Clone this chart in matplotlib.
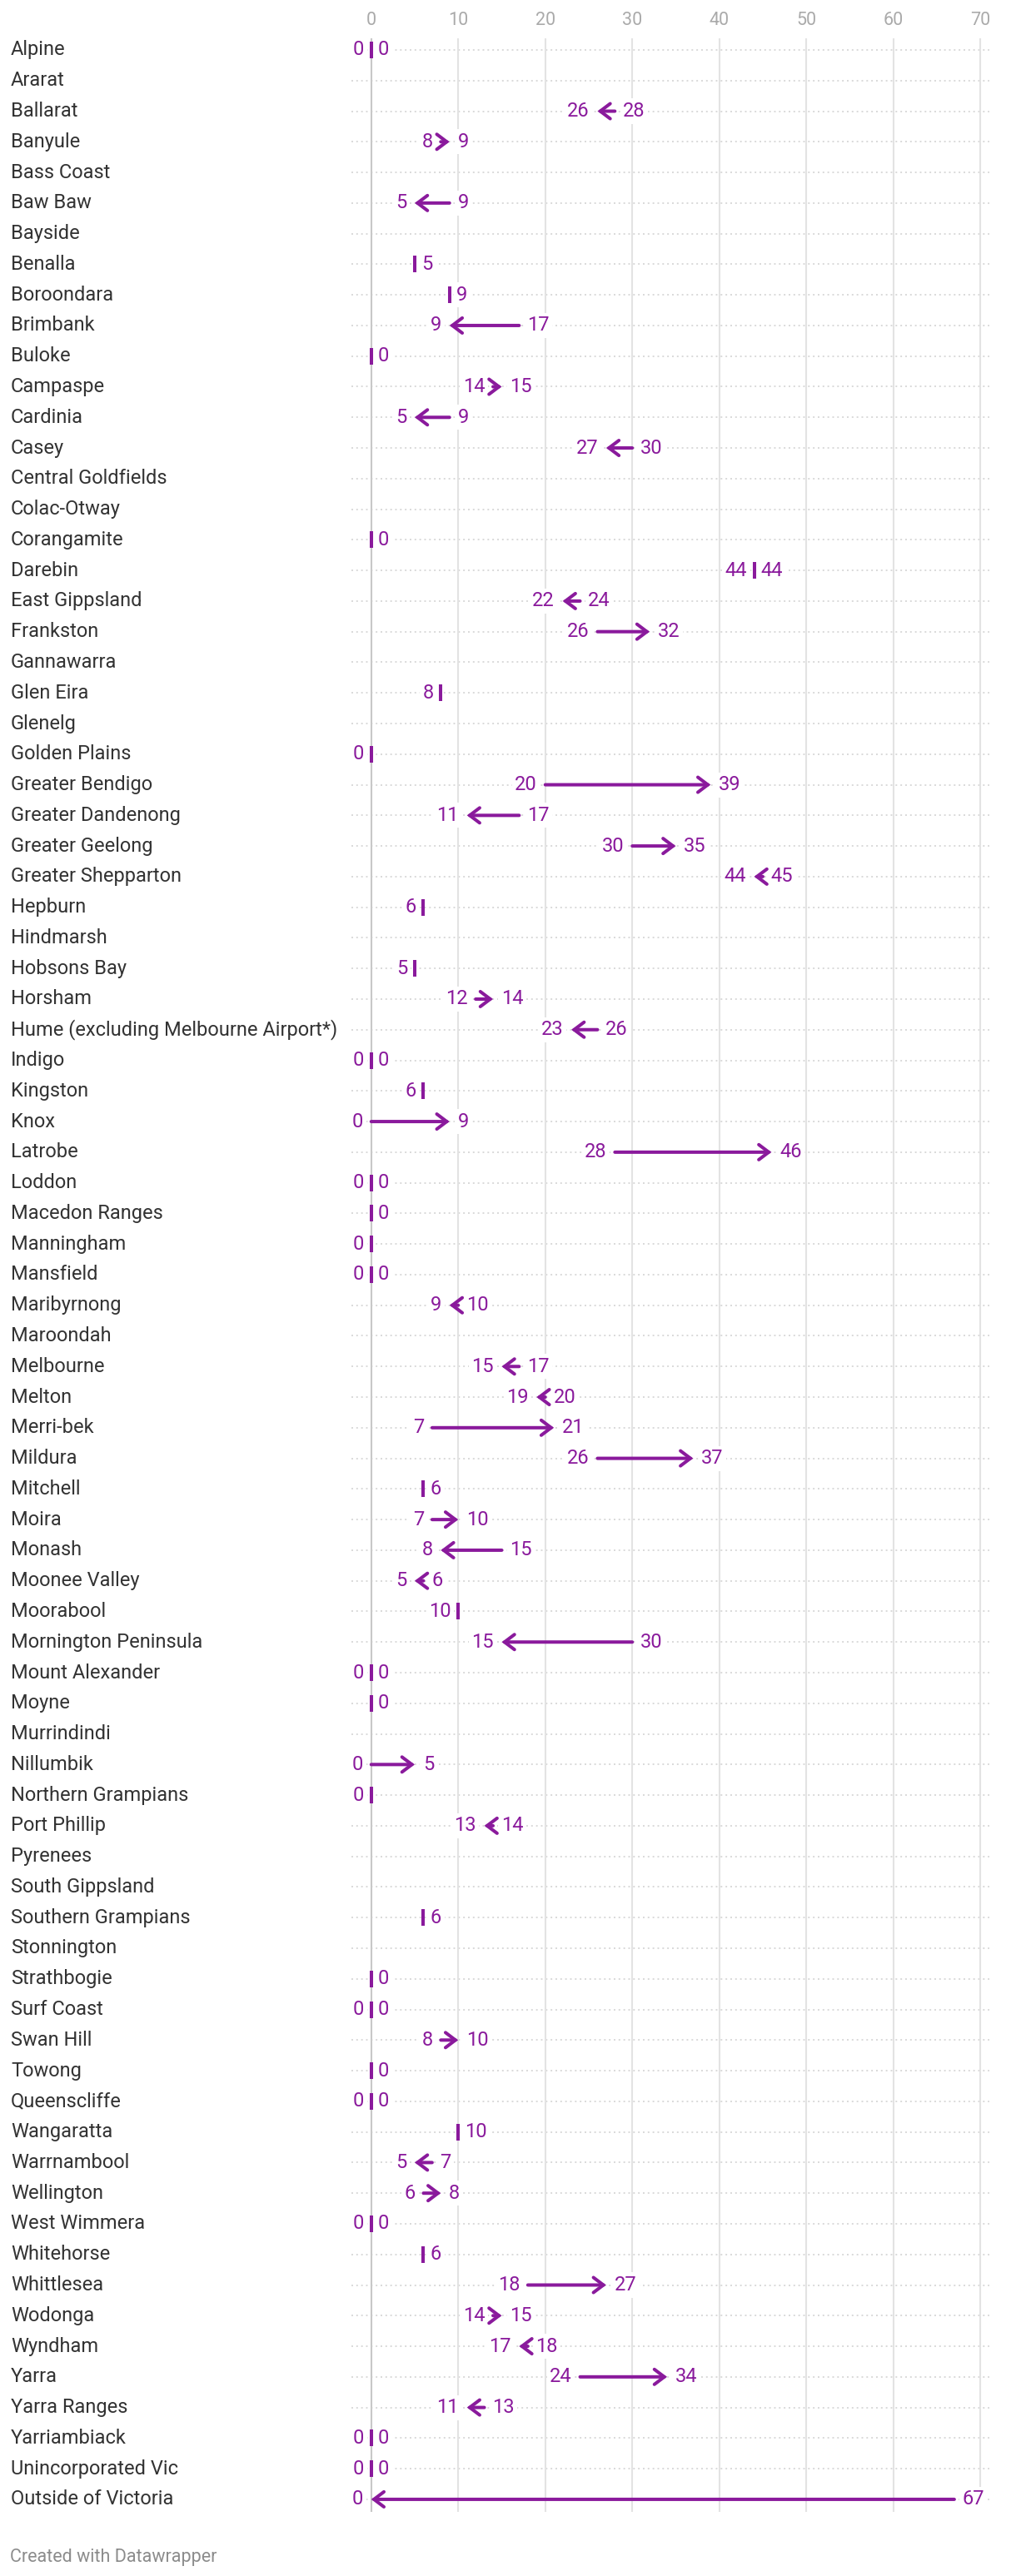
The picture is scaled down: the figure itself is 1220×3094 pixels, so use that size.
import numpy as np
import matplotlib.pyplot as plt
from matplotlib.patches import FancyArrowPatch
from matplotlib.transforms import blended_transform_factory

plt.rcParams["font.family"] = ["Roboto", "DejaVu Sans"]

nan = np.nan

councils = [
    "Alpine", "Ararat", "Ballarat", "Banyule", "Bass Coast", "Baw Baw", "Bayside",
    "Benalla", "Boroondara", "Brimbank", "Buloke", "Campaspe", "Cardinia", "Casey",
    "Central Goldfields", "Colac-Otway", "Corangamite", "Darebin", "East Gippsland",
    "Frankston", "Gannawarra", "Glen Eira", "Glenelg", "Golden Plains",
    "Greater Bendigo", "Greater Dandenong", "Greater Geelong", "Greater Shepparton",
    "Hepburn", "Hindmarsh", "Hobsons Bay", "Horsham",
    "Hume (excluding Melbourne Airport*)", "Indigo", "Kingston", "Knox", "Latrobe",
    "Loddon", "Macedon Ranges", "Manningham", "Mansfield", "Maribyrnong", "Maroondah",
    "Melbourne", "Melton", "Merri-bek", "Mildura", "Mitchell", "Moira", "Monash",
    "Moonee Valley", "Moorabool", "Mornington Peninsula", "Mount Alexander", "Moyne",
    "Murrindindi", "Nillumbik", "Northern Grampians", "Port Phillip", "Pyrenees",
    "South Gippsland", "Southern Grampians", "Stonnington", "Strathbogie", "Surf Coast",
    "Swan Hill", "Towong", "Queenscliffe", "Wangaratta", "Warrnambool", "Wellington",
    "West Wimmera", "Whitehorse", "Whittlesea", "Wodonga", "Wyndham", "Yarra",
    "Yarra Ranges", "Yarriambiack", "Unincorporated Vic", "Outside of Victoria",
]

# first value (arrow tail) and second value (arrow head)
start = [
    0, nan, 28, 8, nan, 9, nan,
    nan, nan, 17, nan, 14, 9, 30,
    nan, nan, nan, 44, 24,
    26, nan, 8, nan, 0,
    20, 17, 30, 45,
    6, nan, 5, 12,
    26, 0, 6, 0, 28,
    0, nan, 0, 0, 10, nan,
    17, 20, 7, 26, nan, 7, 15,
    6, 10, 30, 0, nan,
    nan, 0, 0, 14, nan,
    nan, nan, nan, nan, 0,
    8, nan, 0, nan, 7, 6,
    0, nan, 18, 14, 18, 24,
    13, 0, 0, 67,
]
end = [
    0, nan, 26, 9, nan, 5, nan,
    5, 9, 9, 0, 15, 5, 27,
    nan, nan, 0, 44, 22,
    32, nan, nan, nan, nan,
    39, 11, 35, 44,
    nan, nan, nan, 14,
    23, 0, nan, 9, 46,
    0, 0, nan, 0, 9, nan,
    15, 19, 21, 37, 6, 10, 8,
    5, nan, 15, 0, 0,
    nan, 5, nan, 13, nan,
    nan, 6, nan, 0, 0,
    10, 0, 0, 10, 5, 8,
    0, 6, 27, 15, 17, 34,
    11, 0, 0, 0,
]

ticks = [0, 10, 20, 30, 40, 50, 60, 70]

purple = "#8a1a9c"
W, H = 1220, 3094

fig = plt.figure(figsize=(W / 100, H / 100), dpi=100)
ax = fig.add_axes([422 / W, 1 - 3017 / H, (1188 - 422) / W, (3017 - 46) / H])

n = len(councils)
x0, x1 = -2.27, 71.03
ax.set_xlim(x0, x1)
ax.set_ylim(n - 1 + 0.41, -0.38)
for s in ax.spines.values():
    s.set_visible(False)

ax.set_xticks(ticks)
ax.set_yticks([])
ax.xaxis.tick_top()
ax.tick_params(axis="x", length=0, pad=8, labelsize=15.5, labelcolor="#aaaaaa")

for t in ticks:
    ax.axvline(t, color="#c8c8c8" if t == 0 else "#e3e3e3", lw=1.5, zorder=0.5)

rows = np.arange(n)
ax.hlines(rows, x0, x1, color="#d9d9d9", lw=1.4, ls=(0, (1, 2)), zorder=0.3)

lab_kw = dict(textcoords="offset points", va="center", fontsize=17, color=purple,
              zorder=3, bbox=dict(boxstyle="square,pad=0.15", fc="white", ec="none"))

for i, (s, e) in enumerate(zip(start, end)):
    s_ok, e_ok = not np.isnan(s), not np.isnan(e)
    if not s_ok and not e_ok:
        continue
    if s_ok and e_ok and s != e:
        arr = FancyArrowPatch((s, i), (e, i), arrowstyle="->,head_length=8.6,head_width=6.5",
                              mutation_scale=1, lw=2.9, color=purple, shrinkA=0, shrinkB=0,
                              capstyle="round", joinstyle="miter", zorder=4)
        ax.add_patch(arr)
        lo, hi = min(s, e), max(s, e)
        ax.annotate(f"{lo:.0f}", (lo, i), xytext=(-7, 0), ha="right", **lab_kw)
        ax.annotate(f"{hi:.0f}", (hi, i), xytext=(7, 0), ha="left", **lab_kw)
    else:
        v = s if s_ok else e
        ax.plot([v], [i], marker="|", ms=15, mew=2.9, color=purple, zorder=4)
        if s_ok:
            ax.annotate(f"{v:.0f}", (v, i), xytext=(-6, 0), ha="right", **lab_kw)
        if e_ok:
            ax.annotate(f"{v:.0f}", (v, i), xytext=(6, 0), ha="left", **lab_kw)

trans = blended_transform_factory(fig.transFigure, ax.transData)
for i, name in enumerate(councils):
    ax.text(13 / W, i, name, transform=trans, ha="left", va="center",
            fontsize=17, color="#333333")

fig.text(12 / W, 1 - 3072 / H, "Created with Datawrapper", ha="left", va="center",
         fontsize=15.5, color="#8c8c8c")

fig.savefig("out.png", dpi=100)
